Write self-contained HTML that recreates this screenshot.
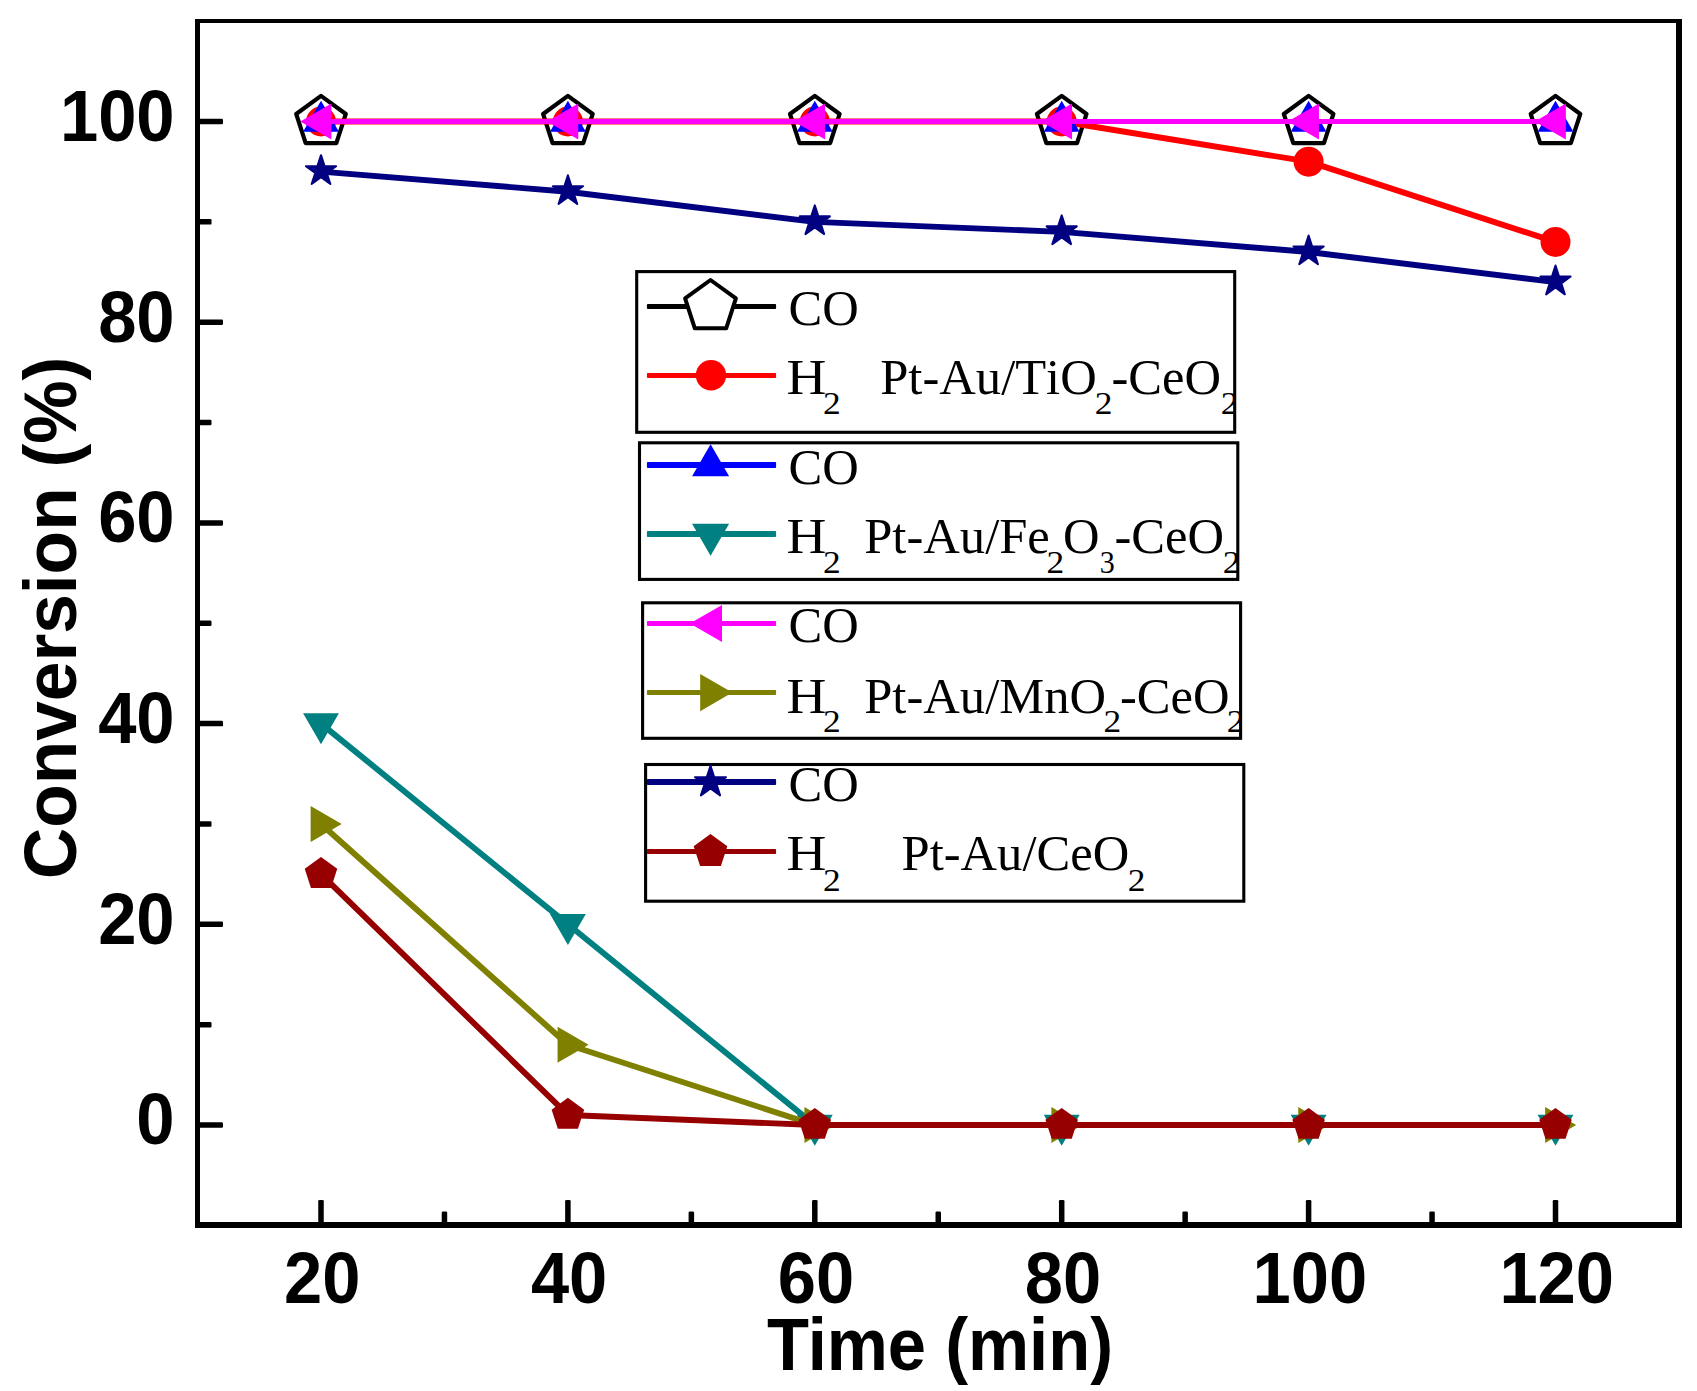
<!DOCTYPE html>
<html lang="en"><head><meta charset="utf-8"><title>Conversion vs Time</title>
<style>html,body{margin:0;padding:0;background:#fff}body{width:1697px;height:1391px;overflow:hidden}svg{display:block}</style></head>
<body>
<svg width="1697" height="1391" viewBox="0 0 1697 1391" role="img" aria-label="Conversion versus time chart">
<rect width="1697" height="1391" fill="#fff"/>
<polyline points="321.00,121.50 567.90,121.50 814.80,121.50 1061.70,121.50 1308.60,121.50 1555.50,121.50" fill="none" stroke="#000000" stroke-width="5.0" stroke-linejoin="round"/>
<polygon points="321.00,95.90 345.82,113.93 336.34,143.12 305.66,143.12 296.18,113.93" fill="#fff" stroke="#000" stroke-width="4.2" stroke-linejoin="round"/>
<polygon points="567.90,95.90 592.72,113.93 583.24,143.12 552.56,143.12 543.08,113.93" fill="#fff" stroke="#000" stroke-width="4.2" stroke-linejoin="round"/>
<polygon points="814.80,95.90 839.62,113.93 830.14,143.12 799.46,143.12 789.98,113.93" fill="#fff" stroke="#000" stroke-width="4.2" stroke-linejoin="round"/>
<polygon points="1061.70,95.90 1086.52,113.93 1077.04,143.12 1046.36,143.12 1036.88,113.93" fill="#fff" stroke="#000" stroke-width="4.2" stroke-linejoin="round"/>
<polygon points="1308.60,95.90 1333.42,113.93 1323.94,143.12 1293.26,143.12 1283.78,113.93" fill="#fff" stroke="#000" stroke-width="4.2" stroke-linejoin="round"/>
<polygon points="1555.50,95.90 1580.32,113.93 1570.84,143.12 1540.16,143.12 1530.68,113.93" fill="#fff" stroke="#000" stroke-width="4.2" stroke-linejoin="round"/>
<polyline points="321.00,121.50 567.90,121.50 814.80,121.50 1061.70,121.50 1308.60,161.64 1555.50,241.92" fill="none" stroke="#ff0000" stroke-width="5.9" stroke-linejoin="round"/>
<circle cx="321.00" cy="121.50" r="15.0" fill="#ff0000"/>
<circle cx="567.90" cy="121.50" r="15.0" fill="#ff0000"/>
<circle cx="814.80" cy="121.50" r="15.0" fill="#ff0000"/>
<circle cx="1061.70" cy="121.50" r="15.0" fill="#ff0000"/>
<circle cx="1308.60" cy="161.64" r="15.0" fill="#ff0000"/>
<circle cx="1555.50" cy="241.92" r="15.0" fill="#ff0000"/>
<polyline points="321.00,121.50 567.90,121.50 814.80,121.50 1061.70,121.50 1308.60,121.50 1555.50,121.50" fill="none" stroke="#0000ff" stroke-width="5.0" stroke-linejoin="round"/>
<polygon points="321.00,100.80 338.93,131.85 303.07,131.85" fill="#0000ff"/>
<polygon points="567.90,100.80 585.83,131.85 549.97,131.85" fill="#0000ff"/>
<polygon points="814.80,100.80 832.73,131.85 796.87,131.85" fill="#0000ff"/>
<polygon points="1061.70,100.80 1079.63,131.85 1043.77,131.85" fill="#0000ff"/>
<polygon points="1308.60,100.80 1326.53,131.85 1290.67,131.85" fill="#0000ff"/>
<polygon points="1555.50,100.80 1573.43,131.85 1537.57,131.85" fill="#0000ff"/>
<polyline points="321.00,723.60 567.90,924.30 814.80,1125.00 1061.70,1125.00 1308.60,1125.00 1555.50,1125.00" fill="none" stroke="#008080" stroke-width="5.9" stroke-linejoin="round"/>
<polygon points="321.00,744.30 303.07,713.25 338.93,713.25" fill="#008080"/>
<polygon points="567.90,945.00 549.97,913.95 585.83,913.95" fill="#008080"/>
<polygon points="814.80,1145.70 796.87,1114.65 832.73,1114.65" fill="#008080"/>
<polygon points="1061.70,1145.70 1043.77,1114.65 1079.63,1114.65" fill="#008080"/>
<polygon points="1308.60,1145.70 1290.67,1114.65 1326.53,1114.65" fill="#008080"/>
<polygon points="1555.50,1145.70 1537.57,1114.65 1573.43,1114.65" fill="#008080"/>
<polyline points="321.00,121.50 567.90,121.50 814.80,121.50 1061.70,121.50 1308.60,121.50 1555.50,121.50" fill="none" stroke="#ff00ff" stroke-width="5.0" stroke-linejoin="round"/>
<polygon points="300.30,121.50 331.35,103.57 331.35,139.43" fill="#ff00ff"/>
<polygon points="547.20,121.50 578.25,103.57 578.25,139.43" fill="#ff00ff"/>
<polygon points="794.10,121.50 825.15,103.57 825.15,139.43" fill="#ff00ff"/>
<polygon points="1041.00,121.50 1072.05,103.57 1072.05,139.43" fill="#ff00ff"/>
<polygon points="1287.90,121.50 1318.95,103.57 1318.95,139.43" fill="#ff00ff"/>
<polygon points="1534.80,121.50 1565.85,103.57 1565.85,139.43" fill="#ff00ff"/>
<polyline points="321.00,823.95 567.90,1044.72 814.80,1125.00 1061.70,1125.00 1308.60,1125.00 1555.50,1125.00" fill="none" stroke="#808000" stroke-width="5.9" stroke-linejoin="round"/>
<polygon points="341.70,823.95 310.65,841.88 310.65,806.02" fill="#808000"/>
<polygon points="588.60,1044.72 557.55,1062.65 557.55,1026.79" fill="#808000"/>
<polygon points="835.50,1125.00 804.45,1142.93 804.45,1107.07" fill="#808000"/>
<polygon points="1082.40,1125.00 1051.35,1142.93 1051.35,1107.07" fill="#808000"/>
<polygon points="1329.30,1125.00 1298.25,1142.93 1298.25,1107.07" fill="#808000"/>
<polygon points="1576.20,1125.00 1545.15,1142.93 1545.15,1107.07" fill="#808000"/>
<polyline points="321.00,171.67 567.90,191.74 814.80,221.85 1061.70,231.88 1308.60,251.95 1555.50,282.06" fill="none" stroke="#000080" stroke-width="5.9" stroke-linejoin="round"/>
<polygon points="321.00,155.17 324.57,166.16 336.12,166.16 326.78,172.95 330.35,183.94 321.00,177.15 311.65,183.94 315.22,172.95 305.88,166.16 317.43,166.16" fill="#000080" stroke="#000080" stroke-width="2" stroke-linejoin="round"/>
<polygon points="567.90,175.24 571.47,186.23 583.02,186.23 573.68,193.02 577.25,204.01 567.90,197.22 558.55,204.01 562.12,193.02 552.78,186.23 564.33,186.23" fill="#000080" stroke="#000080" stroke-width="2" stroke-linejoin="round"/>
<polygon points="814.80,205.35 818.37,216.34 829.92,216.34 820.58,223.13 824.15,234.11 814.80,227.32 805.45,234.11 809.02,223.13 799.68,216.34 811.23,216.34" fill="#000080" stroke="#000080" stroke-width="2" stroke-linejoin="round"/>
<polygon points="1061.70,215.38 1065.27,226.37 1076.82,226.37 1067.48,233.16 1071.05,244.15 1061.70,237.36 1052.35,244.15 1055.92,233.16 1046.58,226.37 1058.13,226.37" fill="#000080" stroke="#000080" stroke-width="2" stroke-linejoin="round"/>
<polygon points="1308.60,235.45 1312.17,246.44 1323.72,246.44 1314.38,253.23 1317.95,264.22 1308.60,257.43 1299.25,264.22 1302.82,253.23 1293.48,246.44 1305.03,246.44" fill="#000080" stroke="#000080" stroke-width="2" stroke-linejoin="round"/>
<polygon points="1555.50,265.56 1559.07,276.55 1570.62,276.55 1561.28,283.34 1564.85,294.32 1555.50,287.53 1546.15,294.32 1549.72,283.34 1540.38,276.55 1551.93,276.55" fill="#000080" stroke="#000080" stroke-width="2" stroke-linejoin="round"/>
<polyline points="321.00,874.12 567.90,1114.96 814.80,1125.00 1061.70,1125.00 1308.60,1125.00 1555.50,1125.00" fill="none" stroke="#960000" stroke-width="5.9" stroke-linejoin="round"/>
<polygon points="321.00,857.02 337.26,868.84 331.05,887.96 310.95,887.96 304.74,868.84" fill="#960000"/>
<polygon points="567.90,1097.87 584.16,1109.68 577.95,1128.80 557.85,1128.80 551.64,1109.68" fill="#960000"/>
<polygon points="814.80,1107.90 831.06,1119.72 824.85,1138.83 804.75,1138.83 798.54,1119.72" fill="#960000"/>
<polygon points="1061.70,1107.90 1077.96,1119.72 1071.75,1138.83 1051.65,1138.83 1045.44,1119.72" fill="#960000"/>
<polygon points="1308.60,1107.90 1324.86,1119.72 1318.65,1138.83 1298.55,1138.83 1292.34,1119.72" fill="#960000"/>
<polygon points="1555.50,1107.90 1571.76,1119.72 1565.55,1138.83 1545.45,1138.83 1539.24,1119.72" fill="#960000"/>
<g fill="#000"><rect x="197" y="1122.25" width="26.00" height="5.50" rx="1.2"/><rect x="197" y="921.55" width="26.00" height="5.50" rx="1.2"/><rect x="197" y="720.85" width="26.00" height="5.50" rx="1.2"/><rect x="197" y="520.15" width="26.00" height="5.50" rx="1.2"/><rect x="197" y="319.45" width="26.00" height="5.50" rx="1.2"/><rect x="197" y="118.75" width="26.00" height="5.50" rx="1.2"/><rect x="197" y="1021.90" width="14.50" height="5.50" rx="1.2"/><rect x="197" y="821.20" width="14.50" height="5.50" rx="1.2"/><rect x="197" y="620.50" width="14.50" height="5.50" rx="1.2"/><rect x="197" y="419.80" width="14.50" height="5.50" rx="1.2"/><rect x="197" y="219.10" width="14.50" height="5.50" rx="1.2"/><rect x="318.25" y="1200.00" width="5.50" height="26.00" rx="1.2"/><rect x="565.15" y="1200.00" width="5.50" height="26.00" rx="1.2"/><rect x="812.05" y="1200.00" width="5.50" height="26.00" rx="1.2"/><rect x="1058.95" y="1200.00" width="5.50" height="26.00" rx="1.2"/><rect x="1305.85" y="1200.00" width="5.50" height="26.00" rx="1.2"/><rect x="1552.75" y="1200.00" width="5.50" height="26.00" rx="1.2"/><rect x="441.70" y="1211.50" width="5.50" height="14.50" rx="1.2"/><rect x="688.60" y="1211.50" width="5.50" height="14.50" rx="1.2"/><rect x="935.50" y="1211.50" width="5.50" height="14.50" rx="1.2"/><rect x="1182.40" y="1211.50" width="5.50" height="14.50" rx="1.2"/><rect x="1429.30" y="1211.50" width="5.50" height="14.50" rx="1.2"/></g>
<g fill="#000"><rect x="195" y="19" width="5" height="1209"/><rect x="195" y="19" width="1487" height="4"/><rect x="1676" y="19" width="6" height="1209"/><rect x="195" y="1222" width="1487" height="6"/></g>
<g font-family="'Liberation Sans', Arial, sans-serif" font-weight="bold" font-size="71.8px" fill="#000">
<text transform="translate(174.60,1144.30) scale(0.943,1)" text-anchor="end" font-size="72.9px">0</text>
<text transform="translate(174.60,943.60) scale(0.943,1)" text-anchor="end" font-size="72.9px">20</text>
<text transform="translate(174.60,742.90) scale(0.943,1)" text-anchor="end" font-size="72.9px">40</text>
<text transform="translate(174.60,542.20) scale(0.943,1)" text-anchor="end" font-size="72.9px">60</text>
<text transform="translate(174.60,341.50) scale(0.943,1)" text-anchor="end" font-size="72.9px">80</text>
<text transform="translate(174.60,140.80) scale(0.943,1)" text-anchor="end" font-size="72.9px">100</text>
<text transform="translate(322.20,1303.00) scale(0.957,1)" text-anchor="middle">20</text>
<text transform="translate(569.10,1303.00) scale(0.957,1)" text-anchor="middle">40</text>
<text transform="translate(816.00,1303.00) scale(0.957,1)" text-anchor="middle">60</text>
<text transform="translate(1062.90,1303.00) scale(0.957,1)" text-anchor="middle">80</text>
<text transform="translate(1309.80,1303.00) scale(0.957,1)" text-anchor="middle">100</text>
<text transform="translate(1556.70,1303.00) scale(0.957,1)" text-anchor="middle">120</text>
<text transform="translate(940.00,1369.70) scale(0.936,1)" text-anchor="middle" font-size="73.4px">Time (min)</text>
<text transform="translate(76.00,618.00) rotate(-90) scale(0.971,1)" text-anchor="middle" font-size="73.4px">Conversion (%)</text>
</g>
<clipPath id="lc1"><rect x="636.7" y="271.6" width="598.0" height="160.7"/></clipPath>
<rect x="636.7" y="271.6" width="598.0" height="160.7" fill="#fff" stroke="#000" stroke-width="3.1"/>
<rect x="646.9" y="304.0" width="129.2" height="5.0" rx="1" fill="#000000"/>
<polygon points="710.50,280.00 735.89,298.45 726.19,328.30 694.81,328.30 685.11,298.45" fill="#fff" stroke="#000" stroke-width="4.0" stroke-linejoin="round"/>
<g clip-path="url(#lc1)" font-family="'Liberation Serif', 'Times New Roman', serif" fill="#000" style="font-kerning:none"><text transform="translate(788.50,325.20) scale(0.981,1)" font-size="51.6px">CO</text></g>
<rect x="646.9" y="373.0" width="129.2" height="5.0" rx="1" fill="#ff0000"/>
<circle cx="711.00" cy="375.20" r="15.2" fill="#ff0000"/>
<g clip-path="url(#lc1)" font-family="'Liberation Serif', 'Times New Roman', serif" fill="#000" style="font-kerning:none"><text transform="translate(786.60,394.20) scale(1.071,1)" font-size="51.6px">H</text><text transform="translate(823.10,413.70) scale(1.117,1)" font-size="31.7px">2</text><text transform="translate(880.20,394.20) scale(0.981,1)" font-size="51.6px">Pt-Au/TiO</text><text transform="translate(1094.80,413.70) scale(1.117,1)" font-size="31.7px">2</text><text transform="translate(1111.40,394.20) scale(0.981,1)" font-size="51.6px">-CeO</text><text transform="translate(1220.80,413.70) scale(1.117,1)" font-size="31.7px">2</text></g>
<clipPath id="lc2"><rect x="639.5" y="442.8" width="598.3" height="136.6"/></clipPath>
<rect x="639.5" y="442.8" width="598.3" height="136.6" fill="#fff" stroke="#000" stroke-width="3.1"/>
<rect x="646.9" y="462.0" width="129.2" height="6.0" rx="1" fill="#0000ff"/>
<polygon points="710.60,444.20 729.13,476.30 692.07,476.30" fill="#0000ff"/>
<g clip-path="url(#lc2)" font-family="'Liberation Serif', 'Times New Roman', serif" fill="#000" style="font-kerning:none"><text transform="translate(788.50,484.10) scale(0.981,1)" font-size="51.6px">CO</text></g>
<rect x="646.9" y="531.0" width="129.2" height="6.0" rx="1" fill="#008080"/>
<polygon points="710.60,555.80 692.07,523.70 729.13,523.70" fill="#008080"/>
<g clip-path="url(#lc2)" font-family="'Liberation Serif', 'Times New Roman', serif" fill="#000" style="font-kerning:none"><text transform="translate(786.60,553.10) scale(1.071,1)" font-size="51.6px">H</text><text transform="translate(823.10,572.60) scale(1.117,1)" font-size="31.7px">2</text><text transform="translate(864.20,553.10) scale(0.981,1)" font-size="51.6px">Pt-Au/Fe</text><text transform="translate(1046.50,572.60) scale(1.117,1)" font-size="31.7px">2</text><text transform="translate(1062.90,553.10) scale(0.981,1)" font-size="51.6px">O</text><text transform="translate(1099.80,572.60) scale(0.950,1)" font-size="31.7px">3</text><text transform="translate(1114.50,553.10) scale(0.981,1)" font-size="51.6px">-CeO</text><text transform="translate(1222.80,572.60) scale(1.117,1)" font-size="31.7px">2</text></g>
<clipPath id="lc3"><rect x="642.6" y="602.8" width="598.0" height="135.5"/></clipPath>
<rect x="642.6" y="602.8" width="598.0" height="135.5" fill="#fff" stroke="#000" stroke-width="3.1"/>
<rect x="646.9" y="621.0" width="129.2" height="5.0" rx="1" fill="#ff00ff"/>
<polygon points="689.90,623.50 722.00,604.97 722.00,642.03" fill="#ff00ff"/>
<g clip-path="url(#lc3)" font-family="'Liberation Serif', 'Times New Roman', serif" fill="#000" style="font-kerning:none"><text transform="translate(788.50,642.20) scale(0.981,1)" font-size="51.6px">CO</text></g>
<rect x="646.9" y="690.0" width="129.2" height="5.0" rx="1" fill="#808000"/>
<polygon points="732.30,692.60 700.20,711.13 700.20,674.07" fill="#808000"/>
<g clip-path="url(#lc3)" font-family="'Liberation Serif', 'Times New Roman', serif" fill="#000" style="font-kerning:none"><text transform="translate(786.60,712.60) scale(1.071,1)" font-size="51.6px">H</text><text transform="translate(823.10,732.10) scale(1.117,1)" font-size="31.7px">2</text><text transform="translate(864.20,712.60) scale(0.981,1)" font-size="51.6px">Pt-Au/MnO</text><text transform="translate(1103.50,732.10) scale(1.117,1)" font-size="31.7px">2</text><text transform="translate(1120.00,712.60) scale(0.981,1)" font-size="51.6px">-CeO</text><text transform="translate(1226.80,732.10) scale(1.117,1)" font-size="31.7px">2</text></g>
<clipPath id="lc4"><rect x="645.6" y="764.5" width="598.2" height="136.7"/></clipPath>
<rect x="645.6" y="764.5" width="598.2" height="136.7" fill="#fff" stroke="#000" stroke-width="3.1"/>
<rect x="646.9" y="779.0" width="129.2" height="6.0" rx="1" fill="#000080"/>
<polygon points="710.50,765.90 714.16,777.16 726.00,777.16 716.42,784.12 720.08,795.39 710.50,788.43 700.92,795.39 704.58,784.12 695.00,777.16 706.84,777.16" fill="#000080" stroke="#000080" stroke-width="2" stroke-linejoin="round"/>
<g clip-path="url(#lc4)" font-family="'Liberation Serif', 'Times New Roman', serif" fill="#000" style="font-kerning:none"><text transform="translate(788.50,801.30) scale(0.981,1)" font-size="51.6px">CO</text></g>
<rect x="646.9" y="849.0" width="129.2" height="5.0" rx="1" fill="#960000"/>
<polygon points="710.50,833.90 727.33,846.13 720.90,865.92 700.10,865.92 693.67,846.13" fill="#960000"/>
<g clip-path="url(#lc4)" font-family="'Liberation Serif', 'Times New Roman', serif" fill="#000" style="font-kerning:none"><text transform="translate(786.60,870.10) scale(1.071,1)" font-size="51.6px">H</text><text transform="translate(823.10,891.20) scale(1.117,1)" font-size="31.7px">2</text><text transform="translate(901.50,870.10) scale(0.981,1)" font-size="51.6px">Pt-Au/CeO</text><text transform="translate(1127.80,891.20) scale(1.117,1)" font-size="31.7px">2</text></g>
</svg>
</body></html>
